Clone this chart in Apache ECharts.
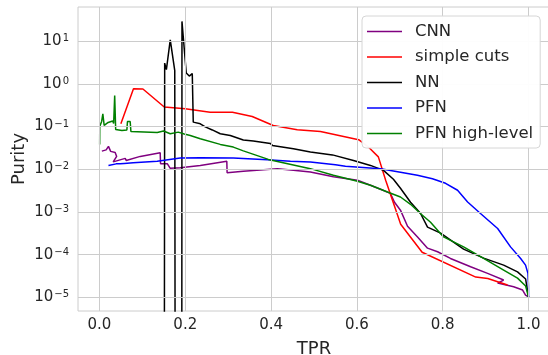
<!DOCTYPE html>
<html>
<head>
<meta charset="utf-8">
<script src="https://cdn.jsdelivr.net/npm/echarts@6/dist/echarts.min.js"></script>
<style>html,body{margin:0;padding:0;background:#fff}#c{width:548px;height:355px}</style>
</head>
<body>
<div id="c"></div>
<script>
// ---- data (TPR vs purity) ----
const xTicks = [0.0, 0.2, 0.4, 0.6, 0.8, 1.0];
const yTickExps = [-5, -4, -3, -2, -1, 0, 1];

const cnnTPR = [0.0056,0.0156,0.021,0.0261,0.0366,0.0401,0.032,0.06,0.0623,0.095,0.0973,0.1416,0.1423,0.158,0.165,0.1883,0.235,0.2968,0.2975,0.3353,0.4146,0.452,0.4916,0.5453,0.6013,0.6316,0.655,0.678,0.6876,0.7015,0.718,0.7413,0.7646,0.788,0.818,0.865,0.9046,0.9419,0.928,0.9653,0.9862,0.993,1.0];
const cnnPurity = [0.0266,0.0284,0.0343,0.0262,0.0248,0.0200,0.0149,0.0180,0.0161,0.0200,0.0180,0.0242,0.0135,0.0135,0.0105,0.0108,0.0123,0.0153,0.00824,0.00893,0.01033,0.00942,0.00861,0.00664,0.00551,0.00421,0.00339,0.00273,0.00169,0.0011,0.000464,0.00026,0.000142,0.000117,8.15e-5,5.19e-5,3.64e-5,2.54e-5,2.16e-5,1.77e-5,1.48e-5,1.13e-5,1.02e-5];

const cutsTPR = [0.0499,0.0793,0.1013,0.151,0.200,0.258,0.310,0.356,0.405,0.461,0.515,0.569,0.604,0.625,0.650,0.667,0.702,0.752,0.877,0.905,0.951];
const cutsPurity = [0.116,0.764,0.757,0.287,0.261,0.217,0.217,0.172,0.106,0.0841,0.0769,0.0587,0.0492,0.0344,0.0195,0.00551,0.000516,0.000114,2.98e-5,2.75e-5,1.94e-5];

const nnTPR = [0.151,0.152,0.156,0.165,0.1755,0.1766,0.1918,0.1923,0.2023,0.2093,0.2163,0.2186,0.235,0.2466,0.263,0.2816,0.3049,0.3353,0.3586,0.3983,0.403,0.452,0.4916,0.543,0.592,0.6316,0.662,0.6851,0.7015,0.725,0.748,0.7646,0.795,0.8486,0.8953,0.942,0.9743,0.9932,1.0];
const nnPurity = [1e-9,3.06,2.16,10.7,2.05,1e-9,1e-9,29.0,1.79,1.52,1.74,0.127,0.116,0.098,0.0833,0.0679,0.0619,0.0486,0.0461,0.0403,0.0362,0.0303,0.0252,0.0217,0.0161,0.0123,0.00942,0.00581,0.00358,0.00169,0.000933,0.000440,0.000318,0.000135,8.28e-5,5.69e-5,3.96e-5,2.68e-5,1.02e-5];

const pfnTPR = [0.021,0.039,0.0413,0.0483,0.0576,0.0600,0.0786,0.1346,0.1883,0.235,0.312,0.3913,0.445,0.4916,0.55,0.5733,0.655,0.7015,0.741,0.776,0.8066,0.8346,0.858,0.888,0.928,0.958,0.9816,0.993,0.9986,0.9998,1.0];
const pfnPurity = [0.0123,0.01337,0.0123,0.01337,0.01367,0.0126,0.0142,0.01546,0.01827,0.01867,0.01827,0.01676,0.01546,0.01473,0.01267,0.01169,0.01033,0.00855,0.00720,0.00597,0.00469,0.00322,0.00171,0.000918,0.000409,0.000152,8.15e-5,5.69e-5,3.64e-5,1.94e-5,1.02e-5];

const pfnhlTPR = [0.0005,0.0007,0.0051,0.0079,0.011,0.0203,0.0308,0.0331,0.0355,0.0378,0.0523,0.0639,0.0653,0.0716,0.0733,0.1346,0.1493,0.165,0.1836,0.1976,0.2116,0.235,0.2816,0.312,0.3353,0.3936,0.4916,0.5453,0.6013,0.6316,0.6713,0.7015,0.725,0.748,0.7716,0.8019,0.8486,0.8953,0.942,0.9743,0.9932,1.0];
const pfnhlPurity = [0.0382,0.1005,0.1315,0.199,0.106,0.1247,0.135,0.118,0.533,0.0855,0.081,0.0833,0.1315,0.1315,0.0769,0.0728,0.0789,0.0679,0.074,0.0671,0.0619,0.0519,0.0382,0.033,0.0269,0.0170,0.01033,0.0072,0.00521,0.00421,0.00293,0.00224,0.00151,0.000918,0.000574,0.00026,0.000152,8.15e-5,4.35e-5,2.82e-5,1.84e-5,1.02e-5];

const seriesNames = ['CNN','simple cuts','NN','PFN','PFN high-level'];
const seriesColors = ['#800080','#ff0000','#000000','#0000ff','#008000'];
const seriesX = [cnnTPR, cutsTPR, nnTPR, pfnTPR, pfnhlTPR];
const seriesY = [cnnPurity, cutsPurity, nnPurity, pfnPurity, pfnhlPurity];

// ---- chart ----
const txt = '#262626';
const FONT = 'DejaVu Sans';
const chart = echarts.init(document.getElementById('c'), null, {renderer:'canvas'});

const lineSeries = seriesNames.map((n,i)=>({
  name:n, type:'line', showSymbol:false, symbol:'none',
  data: seriesX[i].map((x,k)=>[x, Math.log10(seriesY[i][k])]),
  lineStyle:{color:seriesColors[i], width:1.5},
  itemStyle:{color:seriesColors[i]},
  clip:true, z:3
}));

const gridSeries = {
  type:'line', data:[], silent:true, z:1, symbol:'none',
  markLine:{
    silent:true, symbol:['none','none'], animation:false,
    label:{show:false},
    lineStyle:{color:'#cccccc', width:1, type:'solid'},
    data: xTicks.map(v=>({xAxis:v})).concat(yTickExps.map(v=>({yAxis:v})))
  }
};

const sup = {'-':'−'};

chart.setOption({
  animation:false,
  backgroundColor:'#ffffff',
  textStyle:{fontFamily:FONT},
  grid:{left:78, right:-2, top:7, bottom:44, show:true, borderColor:'#cccccc', borderWidth:1, backgroundColor:'#ffffff', containLabel:false, outerBoundsMode:'none'},
  legend:{
    data:seriesNames, orient:'vertical', left:362, top:16, z:10,
    icon:'path://M0,0L35,0L35,1.6L0,1.6Z', symbolKeepAspect:true,
    itemWidth:35, itemHeight:14, itemGap:8.5,
    padding:[7,7,6,5],
    backgroundColor:'rgba(255,255,255,0.96)', borderColor:'#d6d6d6', borderWidth:1, borderRadius:4,
    textStyle:{fontSize:16.5, lineHeight:16.5, color:txt, fontFamily:FONT, padding:[0,0,0,8]}
  },
  xAxis:{
    type:'value', min:-0.05, max:1.05, interval:0.05,
    name:'TPR', nameLocation:'middle', nameGap:29, nameMoveOverlap:false,
    nameTextStyle:{fontSize:18, color:txt, fontFamily:FONT},
    axisLine:{show:false}, axisTick:{show:false}, splitLine:{show:false},
    axisLabel:{
      margin:7, fontSize:15, color:txt, fontFamily:FONT,
      formatter:(v)=>{ const r=v/0.2; return Math.abs(r-Math.round(r))<1e-6 && v>-0.01 && v<1.01 ? (Math.round(r)*0.2).toFixed(1) : ''; }
    }
  },
  yAxis:{
    type:'value', min:-5.32, max:1.80, interval:0.04,
    name:'Purity', nameLocation:'middle', nameGap:50, nameMoveOverlap:false,
    nameTextStyle:{fontSize:18, color:txt, fontFamily:FONT},
    axisLine:{show:false}, axisTick:{show:false}, splitLine:{show:false},
    axisLabel:{
      margin:9, color:txt, fontFamily:FONT,
      formatter:(v)=>{
        if (Math.abs(v-Math.round(v))>1e-6) return '';
        const e = Math.round(v);
        const s = String(e).split('').map(c=>sup[c]||c).join('');
        return '{a|10}{b|'+s+'}';
      },
      rich:{
        a:{fontSize:15, color:txt, fontFamily:FONT, lineHeight:15},
        b:{fontSize:10, color:txt, fontFamily:FONT, verticalAlign:'top', lineHeight:10, padding:[0,0,0,1]}
      }
    }
  },
  series:[gridSeries].concat(lineSeries)
});
</script>
</body>
</html>
